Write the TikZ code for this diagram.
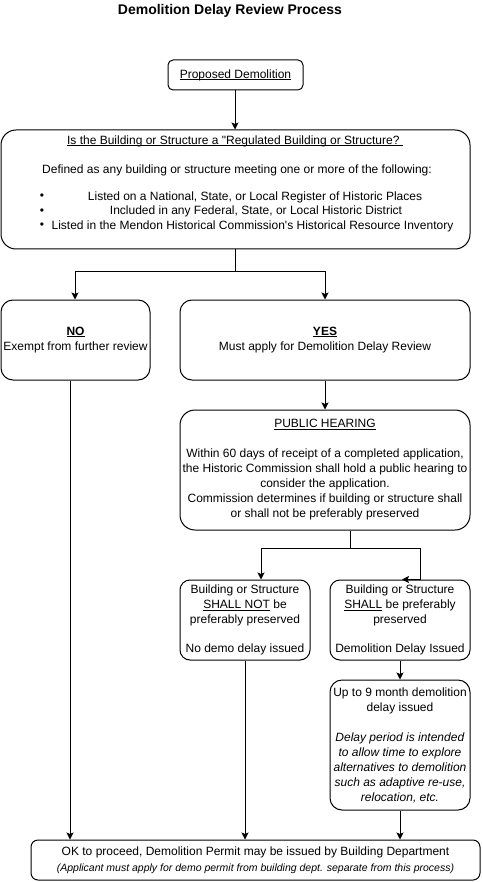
\documentclass[tikz,border=0pt]{standalone}
\usepackage{fontspec}
\setmainfont{Liberation Sans}[Ligatures=TeXOff]
\usetikzlibrary{arrows.meta}
\newcommand\myul[1]{{\setbox0=\hbox{#1}\makebox[0pt][l]{\rule[-1.8pt]{\wd0}{0.8pt}}\box0}}
\begin{document}
\begin{tikzpicture}[x=1pt,y=-1pt,
  box/.style={draw, line width=1pt, align=center, inner sep=0pt, font=\fontsize{12}{15}\selectfont},
  txt/.style={inner sep=0pt, font=\fontsize{12}{15}\selectfont},
  arr/.style={line width=1pt, -{Stealth[length=7pt,width=7pt,inset=1.5pt]}},
  ln/.style={line width=1pt}]
\useasboundingbox (0,0) rectangle (482,882);

\node[inner sep=0pt, font=\bfseries\fontsize{14}{16}\selectfont] (title) at (230,11) {Demolition Delay Review Process};

% boxes
\node[box, rounded corners=5pt, minimum width=135pt, minimum height=30pt] (pd) at (235.5,75) {\myul{Proposed Demolition}};
\node[box, rounded corners=15pt, minimum width=469pt, minimum height=119pt] (big) at (235.5,189.5) {};
\node[txt] (q) at (235,141) {\myul{Is the Building or Structure a "Regulated Building or Structure?\ }};
\node[txt] (def) at (237,170) {Defined as any building or structure meeting one or more of the following:};
\node[txt] (b1) at (42,197) {\vphantom{Lg}\textbullet};
\node[txt] (t1) at (255,197) {Listed on a National, State, or Local Register of Historic Places};
\node[txt] (b2) at (42,211.5) {\vphantom{Lg}\textbullet};
\node[txt] (t2) at (256,211.5) {Included in any Federal, State, or Local Historic District};
\node[txt] (b3) at (42,226) {\vphantom{Lg}\textbullet};
\node[txt] (t3) at (252.5,226) {Listed in the Mendon Historical Commission's Historical Resource Inventory};

\node[box, rounded corners=12pt, minimum width=149pt, minimum height=80pt] (no) at (75.5,340) {\textbf{\myul{NO}}\\Exempt from further review};
\node[box, rounded corners=12pt, minimum width=290pt, minimum height=80pt] (yes) at (325,340) {\textbf{\myul{YES}}\\Must apply for Demolition Delay Review};

\node[box, rounded corners=15pt, minimum width=290pt, minimum height=120pt] (ph) at (325,470) {\myul{PUBLIC HEARING}\\[15pt]Within 60 days of receipt of a completed application,\\the Historic Commission shall hold a public hearing to\\consider the application.\\Commission determines if building or structure shall\\or shall not be preferably preserved};

\node[box, rounded corners=10pt, minimum width=130pt, minimum height=80pt] (sn) at (245,620) {Building or Structure\\\myul{SHALL NOT} be\\preferably preserved\\[14pt]No demo delay issued};
\node[box, rounded corners=10pt, minimum width=140pt, minimum height=80pt] (sh) at (400,620) {Building or Structure\\\myul{SHALL} be preferably\\preserved\\[14pt]Demolition Delay Issued};

\node[box, rounded corners=12pt, minimum width=140pt, minimum height=130pt] (nine) at (400,745) {Up to 9 month demolition\\delay issued\\[15pt]\textit{Delay period is intended}\\\textit{to allow time to explore}\\\textit{alternatives to demolition}\\\textit{such as adaptive re-use,}\\\textit{relocation, etc.}};

\node[box, rounded corners=7pt, minimum width=449pt, minimum height=40pt] (fin) at (255.5,860) {OK to proceed, Demolition Permit may be issued by Building Department\\[1pt]{\fontsize{10.5}{12}\selectfont\itshape (Applicant must apply for demo permit from building dept. separate from this process)}};

% helper coordinates
\coordinate (x70) at (70,0);
\coordinate (x75) at (75,0);
\coordinate (x235) at (235,0);
\coordinate (x245) at (245,0);
\coordinate (x261) at (261,0);
\coordinate (x325) at (325,0);
\coordinate (x350) at (350,0);
\coordinate (x400) at (400,0);
\coordinate (x402) at (402,0);
\coordinate (x420) at (420,0);
\coordinate (j1) at (235,272);
\coordinate (j2) at (350,548);

% connectors
\draw[arr] (pd.south -| x235) -- (big.north -| x235);
\draw[ln] (big.south -| x235) -- (j1);
\draw[arr] (j1) -| (no.north -| x75);
\draw[arr] (j1) -| (yes.north -| x325);
\draw[arr] (yes.south -| x325) -- (ph.north -| x325);
\draw[ln] (ph.south -| x350) -- (j2);
\draw[arr] (j2) -| (sn.north -| x261);
\draw[arr] (j2) -| (sh.north -| x420) -- (sh.north -| x402);
\draw[arr] (sh.south -| x400) -- (nine.north -| x400);
\draw[arr] (no.south -| x70) -- (fin.north -| x70);
\draw[arr] (sn.south -| x245) -- (fin.north -| x245);
\draw[arr] (nine.south -| x400) -- (fin.north -| x400);
\end{tikzpicture}
\end{document}
